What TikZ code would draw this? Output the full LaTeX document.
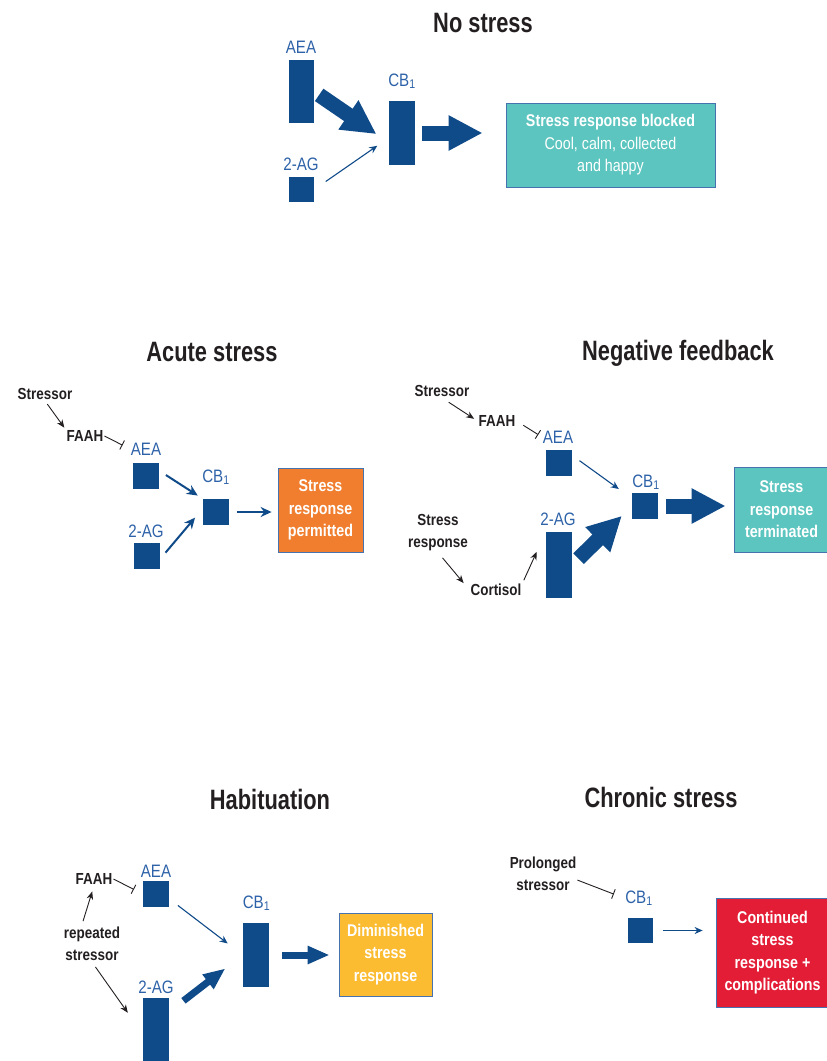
\documentclass[tikz,border=0pt]{standalone}
\usepackage{fontspec}
\setmainfont{Liberation Sans}[FakeStretch=0.84]
\newfontfamily\headfont{Liberation Sans}[FakeStretch=0.78]
\usetikzlibrary{arrows.meta}
\definecolor{barblue}{HTML}{0F4A89}
\definecolor{lblblue}{HTML}{2D62A8}
\definecolor{inkgray}{HTML}{231F20}
\definecolor{edgeblue}{HTML}{4672B0}
\definecolor{calmteal}{HTML}{5CC5BF}
\definecolor{alarmorange}{HTML}{F07E2E}
\definecolor{alarmred}{HTML}{E41D36}
\definecolor{dimyellow}{HTML}{FBBC32}
\begin{document}
\begin{tikzpicture}[x=1pt, y=-1pt,
  bar/.style={fill=barblue, inner sep=0pt},
  ttl/.style={text=inkgray, inner sep=1pt, font=\headfont\fontsize{28}{30}\selectfont\bfseries},
  lbl/.style={text=lblblue, inner sep=1pt, anchor=base, font=\fontsize{18}{20}\selectfont},
  tag/.style={text=inkgray, inner sep=1pt, align=center, font=\fontsize{16}{22}\selectfont\bfseries},
  outbox/.style={draw=edgeblue, line width=0.8pt, text=white, align=center, inner sep=0pt, font=\fontsize{17}{22.5}\selectfont\bfseries},
  blackarr/.style={draw=inkgray, line width=0.9pt, -{Stealth[length=8pt,width=6.5pt]}},
  inhib/.style={draw=inkgray, line width=0.9pt, -{Bar[width=10pt]}},
  thinarr/.style={draw=barblue, line width=1.1pt, -{Stealth[length=8pt,width=7pt]}},
  medarr/.style={draw=barblue, line width=2pt, -{Stealth[length=11pt,width=10pt]}},
  boldarr/.style={draw=barblue, line width=7pt, -{Triangle[length=22pt,width=17pt]}},
  fatarr/.style={draw=barblue, line width=15pt, -{Triangle[length=34pt,width=33pt]}}]
\useasboundingbox (0,0) rectangle (827,1061);
% no stress
\node[ttl] (t1) at (483,23) {No stress};
\node[lbl] (aeaL1) at (301,53) {AEA};
\node[bar, minimum width=25pt, minimum height=63pt] (aea1) at (301.5,91.5) {};
\node[lbl] (agL1) at (301,170) {2-AG};
\node[bar, minimum width=25pt, minimum height=25pt] (ag1) at (301.5,189.5) {};
\node[lbl] (cbL1) at (402,86) {CB\textsubscript{1}};
\node[bar, minimum width=26pt, minimum height=64pt] (cb1) at (402,133) {};
\node[outbox, fill=calmteal, minimum width=209pt, minimum height=84pt] (box1) at (610.5,145)
  {Stress response blocked\\ \mdseries Cool, calm, collected\\ \mdseries and happy};
\draw[fatarr, shorten <=6pt, shorten >=15pt] (aea1.east) -- (cb1.216); %AEA to CB1
\draw[thinarr, shorten <=14pt, shorten >=14pt] (ag1.east) -- (cb1.200); %2-AG to CB1
\draw[fatarr, shorten <=7pt, shorten >=23pt] (cb1.east) -- (cb1.east -| box1.west); %CB1 to box
% acute stress
\node[ttl] (t2) at (212,352) {Acute stress};
\node[tag] (str2) at (45,394) {Stressor};
\node[tag] (faah2) at (85,436) {FAAH};
\node[lbl] (aeaL2) at (146,455) {AEA};
\node[bar, minimum width=26pt, minimum height=26pt] (aea2) at (146,475.5) {};
\node[lbl] (agL2) at (146,537) {2-AG};
\node[bar, minimum width=26pt, minimum height=26pt] (ag2) at (146.5,556) {};
\node[lbl] (cbL2) at (216,482) {CB\textsubscript{1}};
\node[bar, minimum width=26pt, minimum height=26pt] (cb2) at (216,512) {};
\node[outbox, fill=alarmorange, minimum width=85pt, minimum height=84pt] (box2) at (320.5,510)
  {Stress\\ response\\ permitted};
\draw[blackarr, shorten <=4pt, shorten >=2pt] (str2.south) -- (faah2.north west);
\draw[inhib, shorten >=8pt] (faah2.east) -- (aeaL2.west);
\draw[medarr, shorten <=8pt, shorten >=6pt] (aea2.20) -- (cb2.north west);
\draw[medarr, shorten <=9pt, shorten >=12pt] (ag2.-15) -- (cb2.165);
\draw[medarr, shorten <=8pt, shorten >=6pt] (cb2.east) -- (cb2.east -| box2.west);
% negative feedback
\node[ttl] (t3) at (678,353) {Negative feedback};
\node[tag] (str3) at (442,391) {Stressor};
\node[tag] (faah3) at (497,421) {FAAH};
\node[lbl] (aeaL3) at (558,443) {AEA};
\node[bar, minimum width=26pt, minimum height=26pt] (aea3) at (559,463) {};
\node[lbl] (agL3) at (558,525) {2-AG};
\node[bar, minimum width=26pt, minimum height=66pt] (ag3) at (559,565) {};
\node[lbl] (cbL3) at (646,487) {CB\textsubscript{1}};
\node[bar, minimum width=26pt, minimum height=26pt] (cb3) at (645,506) {};
\node[outbox, fill=calmteal, minimum width=95pt, minimum height=85pt] (box3) at (781.5,509.5)
  {Stress\\ response\\ terminated};
\node[tag] (sr3) at (438,533) {Stress\\ response};
\node[tag] (cort3) at (496,590) {Cortisol};
\draw[blackarr, shorten <=8pt, shorten >=4pt] (str3.south) -- (faah3.west);
\draw[inhib, shorten <=8pt, shorten >=4pt] (faah3.east) -- (aeaL3.west);
\draw[thinarr, shorten <=9pt, shorten >=16pt] (aea3.30) -- (cb3.150);
\draw[fatarr, shorten <=9pt, shorten >=14pt] (ag3.east) -- (cb3.west); %2-AG to CB1
\draw[fatarr, shorten <=8pt, shorten >=8pt] (cb3.east) -- (cb3.east -| box3.west); %CB1 to box
\draw[blackarr, shorten <=7pt, shorten >=9pt] (sr3.south) -- (cort3.west);
\draw[blackarr, shorten <=3pt, shorten >=22pt] (cort3.north east) -- (ag3.north west);
% habituation
\node[ttl] (t4) at (270,799) {Habituation};
\node[tag] (faah4) at (94,879) {FAAH};
\node[lbl] (aeaL4) at (156,877) {AEA};
\node[bar, minimum width=26pt, minimum height=26pt] (aea4) at (156,894) {};
\node[tag] (rs4) at (92,944) {repeated\\ stressor};
\node[lbl] (agL4) at (156,993) {2-AG};
\node[bar, minimum width=26pt, minimum height=72pt] (ag4) at (156,1034) {};
\node[lbl] (cbL4) at (256.5,908) {CB\textsubscript{1}};
\node[bar, minimum width=26pt, minimum height=64pt] (cb4) at (256,955) {};
\node[outbox, fill=dimyellow, minimum width=93pt, minimum height=83pt] (box4) at (385.5,954.5)
  {Diminished\\ stress\\ response};
\draw[blackarr, shorten <=5pt, shorten >=6pt] (rs4.120) -- (faah4.south);
\draw[blackarr, shorten <=6pt, shorten >=26pt] (rs4.south) -- (ag4.west);
\draw[inhib, shorten >=10pt] (faah4.east) -- (aea4.west);
\draw[thinarr, shorten <=11pt, shorten >=19pt] (aea4.-20) -- (cb4.west);
\draw[boldarr, shorten <=18pt, shorten >=22pt] ([yshift=-14pt]ag4.north east) -- (cb4.west);
\draw[boldarr, shorten <=13pt, shorten >=9pt] (cb4.east) -- (cb4.east -| box4.west);
% chronic stress
\node[ttl] (t5) at (661,797) {Chronic stress};
\node[tag] (ps5) at (543,874) {Prolonged\\ stressor};
\node[lbl] (cbL5) at (639,903) {CB\textsubscript{1}};
\node[bar, minimum width=25pt, minimum height=25pt] (cb5) at (640.5,930.5) {};
\node[outbox, fill=alarmred, minimum width=113pt, minimum height=109pt] (box5) at (772.5,952.5)
  {Continued\\ stress\\ response +\\ complications};
\draw[inhib, shorten >=11pt] (ps5.-10) -- (cbL5.west);
\draw[thinarr, shorten <=10pt, shorten >=13pt] (cb5.east) -- (cb5.east -| box5.west);
\end{tikzpicture}
\end{document}
